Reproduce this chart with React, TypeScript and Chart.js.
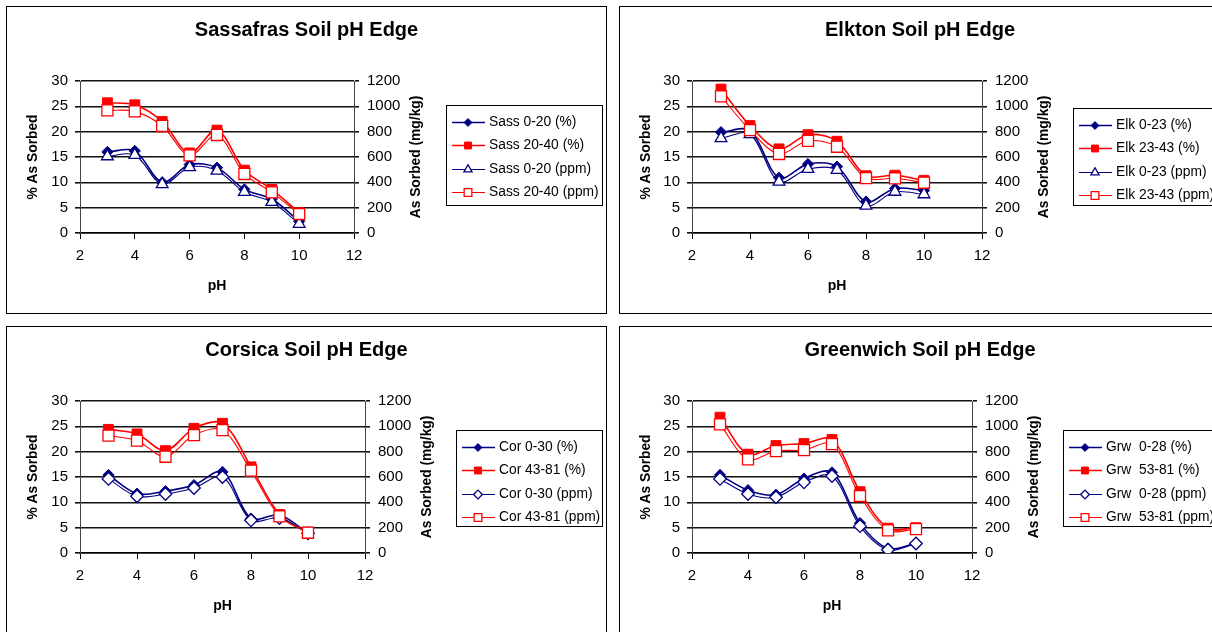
import React, { useEffect, useRef } from 'react';
import { Chart, registerables } from 'chart.js';
import { drawPoint } from 'chart.js/helpers';

Chart.register(...registerables);

const FONT = '"Liberation Sans", Arial, Helvetica, sans-serif';
const NAVY = '#000080';
const RED = '#ff0000';

// pH of each batch
const PH_VALUES = [3, 4, 5, 6, 7, 8, 9, 10];

// Sassafras
const sass020Pct = [16.0, 16.2, 10.0, 13.5, 12.9, 8.6, 6.7, 2.3];
const sass2040Pct = [25.7, 25.3, 22.0, 15.8, 20.3, 12.4, 8.6, 4.0];
const sass020Ppm = [605, 616, 385, 519, 492, 324, 245, 72];
const sass2040Ppm = [968, 960, 845, 613, 774, 466, 321, 150];

// Elkton
const elk023Pct = [19.9, 20.2, 10.9, 13.6, 13.1, 6.2, 8.8, 8.4];
const elk2343Pct = [28.4, 21.2, 16.6, 19.4, 18.1, 11.3, 11.4, 10.4];
const elk023Ppm = [748, 780, 405, 505, 498, 215, 325, 305];
const elk2343Ppm = [1078, 813, 624, 728, 681, 434, 432, 397];

// Corsica
const cor030Pct = [15.4, 11.7, 12.2, 13.4, 16.0, 6.8, 7.5, 3.9];
const cor4381Pct = [24.4, 23.5, 20.2, 24.6, 25.6, 17.0, 7.6, 4.1];
const cor030Ppm = [585, 448, 466, 513, 600, 258, 276, 155];
const cor4381Ppm = [926, 887, 760, 931, 970, 650, 290, 160];

// Greenwich
const grw028Pct = [15.4, 12.4, 11.5, 14.7, 15.9, 5.9, 0.9, 1.9];
const grw5381Pct = [26.8, 19.5, 21.2, 21.6, 22.4, 12.1, 4.9, 5.0];
const grw028Ppm = [585, 466, 440, 558, 608, 212, 25, 75];
const grw5381Ppm = [1016, 740, 805, 813, 860, 450, 178, 188];

// Axis ranges and titles
const PH_RANGE = [2, 12];
const PH_STEP = 2;
const PCT_RANGE = [0, 30];
const PCT_STEP = 5;
const PPM_RANGE = [0, 1200];
const PPM_STEP = 200;
const X_TITLE = 'pH';
const PCT_TITLE = '% As Sorbed';
const PPM_TITLE = 'As Sorbed (mg/kg)';

type Marker = 'diamond' | 'square' | 'triangle' | 'openDiamond' | 'openSquare';

interface Series {
  label: string;
  values: number[];
  axis: 'y' | 'y2';
  color: string;
  marker: Marker;
}

interface PanelSpec {
  title: string;
  series: Series[];
  // frame (page px)
  left: number;
  top: number;
  width: number;
  height: number;
  borders: { l: boolean; t: boolean; r: boolean; b: boolean };
  // canvas and plot area (canvas px)
  cw: number;
  ch: number;
  plotL: number;
  plotR: number;
  legend: { x: number; y: number; w: number; h: number };
}

const markerStyle = (m: Marker, color: string, legend: boolean) => {
  const s = legend ? 0.7 : 1;
  switch (m) {
    case 'diamond':
      return { pointStyle: 'rectRot', radius: 5.6 * s, fill: color, border: color, bw: 1 };
    case 'square':
      return { pointStyle: 'rect', radius: 7 * s, fill: color, border: color, bw: 1 };
    case 'triangle':
      return { pointStyle: 'triangle', radius: 6.8 * s, fill: '#ffffff', border: color, bw: 1.3 };
    case 'openDiamond':
      return { pointStyle: 'rectRot', radius: 6.3 * s, fill: '#ffffff', border: color, bw: 1.3 };
    default:
      return { pointStyle: 'rect', radius: 7.8 * s, fill: '#ffffff', border: color, bw: 1.3 };
  }
};

const four = (
  prefix: string,
  a: string,
  b: string,
  pctA: number[],
  pctB: number[],
  ppmA: number[],
  ppmB: number[],
  openMarker: Marker
): Series[] => [
  { label: `${prefix}${a} (%)`, values: pctA, axis: 'y', color: NAVY, marker: 'diamond' },
  { label: `${prefix}${b} (%)`, values: pctB, axis: 'y', color: RED, marker: 'square' },
  { label: `${prefix}${a} (ppm)`, values: ppmA, axis: 'y2', color: NAVY, marker: openMarker },
  { label: `${prefix}${b} (ppm)`, values: ppmB, axis: 'y2', color: RED, marker: 'openSquare' },
];

const PANELS: PanelSpec[] = [
  {
    title: 'Sassafras Soil pH Edge',
    series: four('Sass ', '0-20', '20-40', sass020Pct, sass2040Pct, sass020Ppm, sass2040Ppm, 'triangle'),
    left: 6, top: 6, width: 601, height: 308,
    borders: { l: true, t: true, r: true, b: true },
    cw: 599, ch: 306, plotL: 73, plotR: 347,
    legend: { x: 439, y: 98, w: 156, h: 100 },
  },
  {
    title: 'Elkton Soil pH Edge',
    series: four('Elk ', '0-23', '23-43', elk023Pct, elk2343Pct, elk023Ppm, elk2343Ppm, 'triangle'),
    left: 619, top: 6, width: 593, height: 308,
    borders: { l: true, t: true, r: false, b: true },
    cw: 600, ch: 306, plotL: 72, plotR: 362,
    legend: { x: 453, y: 101, w: 160, h: 97 },
  },
  {
    title: 'Corsica Soil pH Edge',
    series: four('Cor ', '0-30', '43-81', cor030Pct, cor4381Pct, cor030Ppm, cor4381Ppm, 'openDiamond'),
    left: 6, top: 326, width: 601, height: 306,
    borders: { l: true, t: true, r: true, b: false },
    cw: 599, ch: 305, plotL: 73, plotR: 358,
    legend: { x: 449, y: 103, w: 146, h: 96 },
  },
  {
    title: 'Greenwich Soil pH Edge',
    series: four('Grw  ', '0-28', '53-81', grw028Pct, grw5381Pct, grw028Ppm, grw5381Ppm, 'openDiamond'),
    left: 619, top: 326, width: 593, height: 306,
    borders: { l: true, t: true, r: false, b: false },
    cw: 600, ch: 305, plotL: 72, plotR: 352,
    legend: { x: 443, y: 103, w: 160, h: 96 },
  },
];

const PLOT_TOP = 74;
const PLOT_BOTTOM = 226;
const X_BOX = 70;

const plainNumber = (v: number | string) => String(v);

function SoilPanel({ spec }: { spec: PanelSpec }) {
  const ref = useRef<HTMLCanvasElement>(null);

  useEffect(() => {
    const canvas = ref.current;
    if (!canvas) return;

    const datasets = spec.series.map((s, i) => {
      const m = markerStyle(s.marker, s.color, false);
      const isPct = s.axis === 'y';
      return {
        label: s.label,
        data: PH_VALUES.map((x, k) => ({ x, y: s.values[k] })),
        yAxisID: s.axis,
        borderColor: s.color,
        borderWidth: isPct ? 1.6 : 1.1,
        backgroundColor: m.fill,
        pointStyle: m.pointStyle,
        pointRadius: m.radius,
        pointBackgroundColor: m.fill,
        pointBorderColor: m.border,
        pointBorderWidth: m.bw,
        tension: 0.33,
        fill: false,
        order: 4 - i,
      };
    });

    const rightTitle = {
      id: 'rightTitle',
      afterDraw(chart: any) {
        const { ctx, chartArea } = chart;
        ctx.save();
        ctx.translate(chartArea.right + 62, (chartArea.top + chartArea.bottom) / 2);
        ctx.rotate(-Math.PI / 2);
        ctx.font = `bold 13.8px ${FONT}`;
        ctx.fillStyle = '#000';
        ctx.textAlign = 'center';
        ctx.textBaseline = 'middle';
        ctx.fillText(PPM_TITLE, 0, 0);
        ctx.restore();
      },
    };

    const boxLegend = {
      id: 'boxLegend',
      afterDraw(chart: any) {
        const { ctx } = chart;
        const L = spec.legend;
        ctx.save();
        ctx.fillStyle = '#fff';
        ctx.fillRect(L.x, L.y, L.w, L.h);
        ctx.strokeStyle = '#000';
        ctx.lineWidth = 1;
        ctx.strokeRect(L.x + 0.5, L.y + 0.5, L.w, L.h);
        ctx.font = `13.8px ${FONT}`;
        ctx.textBaseline = 'middle';
        ctx.textAlign = 'left';
        spec.series.forEach((s, i) => {
          const y = Math.round(L.y + 17 + i * 23.3) + 0.5;
          const ds = chart.data.datasets[i];
          ctx.strokeStyle = s.color;
          ctx.lineWidth = ds.borderWidth;
          ctx.beginPath();
          ctx.moveTo(L.x + 6, y);
          ctx.lineTo(L.x + 39, y);
          ctx.stroke();
          const m = markerStyle(s.marker, s.color, true);
          ctx.fillStyle = m.fill;
          ctx.strokeStyle = m.border;
          ctx.lineWidth = m.bw;
          drawPoint(ctx, { pointStyle: m.pointStyle, radius: m.radius, rotation: 0, borderWidth: m.bw } as any, L.x + 22, y);
          ctx.fillStyle = '#000';
          ctx.fillText(s.label, L.x + 43, y);
        });
        ctx.restore();
      },
    };

    const tickFont = { family: FONT, size: 15 };
    const chart = new Chart(canvas, {
      type: 'line',
      data: { datasets: datasets as any },
      options: {
        responsive: false,
        animation: false,
        devicePixelRatio: 1,
        events: [],
        layout: {
          autoPadding: false,
          padding: { left: 0, right: 0, top: 0, bottom: spec.ch - PLOT_BOTTOM - X_BOX },
        },
        plugins: {
          legend: { display: false },
          tooltip: { enabled: false },
          title: {
            display: true,
            text: spec.title,
            color: '#000',
            font: { family: FONT, size: 20, weight: 'bold' },
            padding: { top: 11, bottom: PLOT_TOP - 24 - 11 },
          },
        },
        scales: {
          x: {
            type: 'linear',
            min: PH_RANGE[0],
            max: PH_RANGE[1],
            ticks: { stepSize: PH_STEP, color: '#000', font: tickFont, padding: 8, maxRotation: 0, callback: plainNumber },
            grid: { drawOnChartArea: false, drawTicks: true, tickLength: 6, color: '#000', lineWidth: 1 },
            border: { display: true, color: '#000', width: 1.5 },
            title: {
              display: true,
              text: X_TITLE,
              color: '#000',
              font: { family: FONT, size: 14, weight: 'bold' },
              padding: { top: 0, bottom: 8.6 },
            },
            afterFit: (s: any) => {
              s.height = X_BOX;
            },
          },
          y: {
            type: 'linear',
            position: 'left',
            min: PCT_RANGE[0],
            max: PCT_RANGE[1],
            ticks: { stepSize: PCT_STEP, color: '#000', font: tickFont, padding: 7, callback: plainNumber },
            grid: { color: '#111', lineWidth: 1.6, tickLength: 5 },
            border: { display: true, color: '#444', width: 1 },
            title: {
              display: true,
              text: PCT_TITLE,
              color: '#000',
              font: { family: FONT, size: 13.8, weight: 'bold' },
              padding: { top: 18, bottom: 0 },
            },
            afterFit: (s: any) => {
              s.width = spec.plotL;
            },
          },
          y2: {
            type: 'linear',
            position: 'right',
            min: PPM_RANGE[0],
            max: PPM_RANGE[1],
            ticks: { stepSize: PPM_STEP, color: '#000', font: tickFont, padding: 8, callback: plainNumber },
            grid: { drawOnChartArea: false, drawTicks: true, tickLength: 5, color: '#111', lineWidth: 1.6 },
            border: { display: true, color: '#444', width: 1 },
            afterFit: (s: any) => {
              s.width = spec.cw - spec.plotR;
            },
          },
        },
      } as any,
      plugins: [rightTitle, boxLegend],
    });

    return () => chart.destroy();
  }, [spec]);

  const b = spec.borders;
  return (
    <div
      style={{
        position: 'absolute',
        left: spec.left,
        top: spec.top,
        width: spec.width,
        height: spec.height,
        boxSizing: 'border-box',
        borderStyle: 'solid',
        borderColor: '#000',
        borderLeftWidth: b.l ? 1 : 0,
        borderTopWidth: b.t ? 1 : 0,
        borderRightWidth: b.r ? 1 : 0,
        borderBottomWidth: b.b ? 1 : 0,
        overflow: 'hidden',
        background: '#fff',
      }}
    >
      <canvas ref={ref} width={spec.cw} height={spec.ch} style={{ display: 'block', width: spec.cw, height: spec.ch }} />
    </div>
  );
}

export default function App() {
  return (
    <div style={{ position: 'absolute', left: 0, top: 0, width: 1212, height: 632, background: '#fff', overflow: 'hidden' }}>
      {PANELS.map((p) => (
        <SoilPanel key={p.title} spec={p} />
      ))}
    </div>
  );
}
